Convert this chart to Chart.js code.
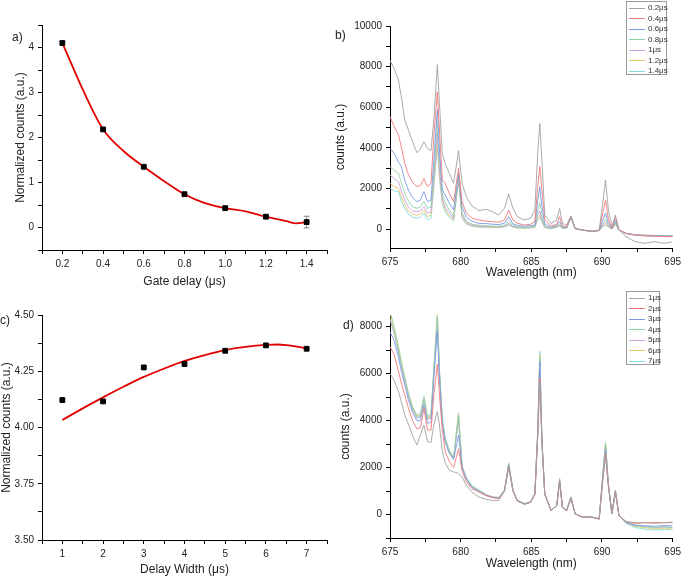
<!DOCTYPE html>
<html>
<head>
<meta charset="utf-8">
<script src="https://cdn.jsdelivr.net/npm/chart.js@4.4.1/dist/chart.umd.min.js"></script>
<style>
  body { margin: 0; background: #fff; width: 685px; height: 579px; overflow: hidden; position: relative; font-family: 'Liberation Sans', Arial, sans-serif; }
  .panel { position: absolute; }
  .tag { position: absolute; font-size: 12px; line-height: 12px; color: #222; }
  .legend { position: absolute; box-sizing: border-box; border: 1px solid #999; background: #fff; font-size: 8px; color: #333; padding: 1px 0 0 2px; }
  .legend .row { height: 10.5px; line-height: 10.5px; display: flex; align-items: center; white-space: nowrap; }
  .legend .swatch { display: inline-block; flex: none; width: 16px; height: 1px; margin-right: 3px; }
</style>
</head>
<body>
<canvas id="chartA" class="panel" width="340" height="290" style="left:0;top:0"></canvas>
<canvas id="chartB" class="panel" width="355" height="290" style="left:330px;top:0"></canvas>
<canvas id="chartC" class="panel" width="340" height="289" style="left:0;top:290px"></canvas>
<canvas id="chartD" class="panel" width="355" height="289" style="left:330px;top:290px"></canvas>
<span class="tag" style="left:12px;top:31px">a)</span>
<span class="tag" style="left:335px;top:29px">b)</span>
<span class="tag" style="left:0;top:314px">c)</span>
<span class="tag" style="left:343px;top:319px">d)</span>
<div id="legendB" class="legend" style="left:626px;top:1px;width:41px;height:74px"></div>
<div id="legendD" class="legend" style="left:626px;top:291px;width:34px;height:74px"></div>
<script>
// ---- data ----
// a) gate delay
const gateDelay = [0.2, 0.4, 0.6, 0.8, 1.0, 1.2, 1.4];
const gateCounts = [4.1, 2.18, 1.35, 0.74, 0.43, 0.24, 0.12];
const gateErr = [0, 0, 0, 0, 0, 0, 0.13];
const gateFitX = [0.2, 0.25, 0.3, 0.35, 0.4, 0.5, 0.6, 0.7, 0.8, 0.9, 1.0, 1.1, 1.2, 1.25, 1.3, 1.35, 1.4];
const gateFitY = [4.1, 3.58, 3.07, 2.59, 2.18, 1.7, 1.35, 1.03, 0.74, 0.54, 0.43, 0.36, 0.24, 0.19, 0.14, 0.09, 0.12];
const gateXTicks = [0.1, 0.2, 0.3, 0.4, 0.5, 0.6, 0.7, 0.8, 0.9, 1.0, 1.1, 1.2, 1.3, 1.4, 1.5];
const gateXLabels = [0.2, 0.4, 0.6, 0.8, 1.0, 1.2, 1.4];
const gateYTicks = [-0.5, 0, 0.5, 1, 1.5, 2, 2.5, 3, 3.5, 4, 4.5];
const gateYLabels = [0, 1, 2, 3, 4];

// c) delay width
const width = [1, 2, 3, 4, 5, 6, 7];
const widthCounts = [4.122, 4.116, 4.267, 4.282, 4.341, 4.365, 4.35];
const widthFitX = [1, 1.5, 2, 2.5, 3, 3.5, 4, 4.5, 5, 5.5, 6, 6.3, 6.5, 7];
const widthFitY = [4.033, 4.085, 4.134, 4.181, 4.225, 4.262, 4.296, 4.322, 4.344, 4.358, 4.367, 4.369, 4.366, 4.352];
const widthXTicks = [0.5, 1, 1.5, 2, 2.5, 3, 3.5, 4, 4.5, 5, 5.5, 6, 6.5, 7, 7.5];
const widthXLabels = [1, 2, 3, 4, 5, 6, 7];
const widthYTicks = [3.5, 3.625, 3.75, 3.875, 4, 4.125, 4.25, 4.375, 4.5];
const widthYLabels = [3.5, 3.75, 4, 4.25, 4.5];

// b) and d) spectra, shared wavelength grid (nm)
const wl = [675, 675.3, 675.6, 675.8, 676.05, 676.3, 676.6, 676.9, 677.15, 677.4,
  677.65, 677.9, 678.1, 678.35, 678.5, 678.7, 678.9, 679.2, 679.5, 679.85,
  680.1, 680.4, 680.8, 681.3, 681.8, 682.25, 682.7, 683.1, 683.4, 683.7,
  684.0, 684.5, 684.95, 685.25, 685.45, 685.6, 685.75, 685.95, 686.4, 686.8,
  687.0, 687.2, 687.5, 687.8, 688.1, 688.6, 689.3, 689.8, 690.05, 690.25,
  690.45, 690.7, 690.95, 691.2, 691.7, 692.3, 693, 693.7, 694.4, 695];
const wlTicks = [675, 677.5, 680, 682.5, 685, 687.5, 690, 692.5, 695];
const wlLabels = [675, 680, 685, 690, 695];

const gateLegend = ['0.2μs', '0.4μs', '0.6μs', '0.8μs', '1μs', '1.2μs', '1.4μs'];
const spec02 = [8300, 7900, 7340, 6520, 5370, 4880, 4300, 3770, 3950, 4300,
  3980, 3870, 5370, 8100, 6190, 3730, 3240, 2750, 2260, 3870,
  2260, 1600, 1150, 920, 980, 865, 700, 1030, 1740, 1030,
  620, 455, 540, 950, 3730, 5200, 3400, 700, 290, 455,
  1030, 290, 210, 650, 50, -30, -115, -30, 1280, 2420,
  950, 130, 700, -30, -360, -600, -690, -610, -690, -610];
const spec04 = [5540, 5040, 4640, 4060, 3240, 2700, 2300, 2100, 2150, 2500,
  2100, 2260, 4550, 6760, 4880, 2420, 2260, 1770, 1360, 3000,
  1360, 800, 550, 455, 400, 375, 350, 455, 950, 455,
  300, 210, 250, 375, 2100, 3080, 1930, 455, 160, 250,
  620, 160, 130, 620, 50, -30, -100, -50, 785, 1440,
  500, 50, 620, -30, -200, -280, -320, -340, -360, -360];
const spec06 = [3980, 3730, 3300, 3080, 2400, 1930, 1550, 1360, 1440, 1850,
  1360, 1440, 3400, 5900, 3900, 1930, 1690, 1280, 950, 2750,
  1110, 600, 400, 290, 280, 250, 230, 300, 620, 260,
  200, 150, 180, 210, 1400, 2100, 1110, 260, 100, 200,
  375, 120, 100, 620, 40, -40, -100, -60, 450, 800,
  300, 30, 455, -40, -200, -280, -320, -330, -340, -350];
const spec08 = [3080, 2900, 2750, 2300, 1770, 1400, 1100, 1030, 1100, 1360,
  1030, 1100, 2750, 5290, 3500, 1770, 1300, 950, 620, 2590,
  800, 400, 250, 200, 180, 160, 150, 200, 400, 180,
  130, 100, 120, 150, 900, 1300, 700, 150, 60, 150,
  250, 80, 80, 620, 30, -40, -100, -60, 300, 500,
  200, 20, 350, -40, -200, -280, -300, -320, -330, -340];
const spec10 = [2670, 2500, 2340, 1900, 1440, 1100, 900, 870, 900, 1110,
  790, 850, 2420, 4720, 3000, 1520, 1100, 790, 540, 2500,
  700, 330, 200, 160, 140, 130, 120, 160, 300, 140,
  100, 80, 100, 120, 700, 900, 500, 120, 50, 120,
  200, 70, 70, 620, 30, -40, -100, -60, 220, 350,
  150, 20, 300, -40, -200, -270, -300, -310, -320, -330];
const spec12 = [2260, 2100, 2010, 1600, 1200, 900, 750, 700, 750, 950,
  620, 700, 2260, 4310, 2700, 1360, 950, 655, 460, 2420,
  600, 280, 170, 130, 110, 100, 100, 130, 250, 120,
  80, 60, 80, 100, 550, 700, 400, 100, 40, 100,
  170, 60, 60, 600, 20, -40, -100, -60, 170, 250,
  120, 10, 250, -40, -200, -260, -290, -300, -310, -320];
const spec14 = [2010, 1900, 1850, 1400, 1030, 750, 600, 540, 600, 790,
  460, 550, 2100, 4060, 2500, 1280, 850, 590, 410, 2340,
  550, 250, 150, 100, 90, 80, 80, 110, 200, 100,
  60, 50, 70, 90, 450, 600, 330, 90, 30, 90,
  150, 50, 50, 600, 20, -40, -100, -60, 130, 200,
  100, 10, 220, -40, -200, -260, -290, -300, -310, -310];

const widthLegend = ['1μs', '2μs', '3μs', '4μs', '5μs', '6μs', '7μs'];
const spec1us = [6010, 5700, 5250, 4800, 4230, 3850, 3350, 2960, 3380, 3810,
  3100, 3070, 3810, 4380, 3810, 2700, 2200, 1890, 1820, 1750,
  1600, 1250, 950, 740, 650, 600, 600, 1000, 2000, 1000,
  580, 430, 520, 850, 3300, 5600, 3000, 850, 170, 380,
  1350, 300, 170, 650, 30, -110, -110, -185, 1400, 2500,
  1200, 30, 950, -40, -300, -350, -350, -380, -350, -350];
const spec2us = [7150, 6800, 6100, 5600, 5090, 4550, 4000, 3650, 3700, 4520,
  3600, 3600, 5090, 6400, 5090, 3600, 2700, 2250, 2000, 2800,
  1850, 1400, 1100, 950, 800, 720, 680, 1000, 2050, 1000,
  580, 440, 520, 870, 3350, 5800, 3100, 870, 170, 380,
  1400, 300, 170, 700, 30, -110, -120, -190, 1450, 2600,
  1250, 30, 980, -40, -300, -380, -350, -330, -350, -320];
const spec3us = [7790, 7400, 6700, 6100, 5510, 4900, 4350, 4000, 4000, 4660,
  3880, 3950, 5800, 7800, 5800, 3900, 3100, 2600, 2350, 3380,
  2000, 1500, 1150, 1000, 820, 730, 700, 1020, 2100, 1020,
  600, 450, 530, 880, 3450, 6500, 3150, 880, 170, 380,
  1450, 300, 170, 720, 30, -110, -110, -185, 1550, 2750,
  1300, 30, 1000, -40, -330, -450, -480, -500, -470, -480];
const spec4us = [8360, 7800, 7000, 6400, 5730, 5100, 4500, 4160, 4200, 4950,
  4090, 4160, 6080, 8430, 6080, 4000, 3200, 2670, 2400, 4230,
  2030, 1550, 1200, 1020, 830, 740, 710, 1030, 2150, 1030,
  600, 455, 530, 880, 3450, 6700, 3160, 880, 170, 385,
  1500, 310, 170, 740, 30, -110, -110, -185, 1600, 3000,
  1310, 30, 1020, -40, -330, -470, -520, -560, -540, -560];
const spec5us = [8300, 7700, 6900, 6300, 5650, 5050, 4450, 4100, 4150, 4850,
  4050, 4100, 6000, 8200, 6000, 3950, 3150, 2650, 2380, 4000,
  2020, 1540, 1190, 1010, 820, 730, 700, 1020, 2100, 1020,
  600, 450, 520, 870, 3400, 6600, 3100, 870, 160, 380,
  1450, 300, 160, 720, 30, -120, -120, -200, 1580, 2900,
  1300, 30, 1000, -40, -330, -460, -500, -540, -520, -540];
const spec6us = [8600, 7900, 7100, 6500, 5800, 5150, 4550, 4200, 4250, 5000,
  4150, 4200, 6150, 8500, 6150, 4050, 3250, 2700, 2420, 4300,
  2050, 1560, 1210, 1030, 840, 750, 720, 1040, 2180, 1040,
  610, 460, 540, 890, 3500, 6800, 3200, 890, 170, 390,
  1520, 310, 170, 740, 30, -110, -110, -190, 1620, 3050,
  1320, 30, 1030, -40, -350, -500, -560, -600, -580, -620];
const spec7us = [8700, 8000, 7150, 6550, 5850, 5200, 4600, 4250, 4300, 5050,
  4200, 4250, 6200, 8550, 6200, 4100, 3300, 2750, 2450, 4350,
  2080, 1580, 1220, 1040, 850, 760, 730, 1050, 2200, 1050,
  620, 470, 550, 900, 3550, 6950, 3250, 900, 180, 395,
  1550, 320, 180, 760, 30, -110, -110, -190, 1650, 3100,
  1330, 30, 1050, -40, -380, -550, -620, -660, -640, -650];
const countTicks = [-1000, 0, 1000, 2000, 3000, 4000, 5000, 6000, 7000, 8000, 9000, 10000];
const countLabels = [0, 2000, 4000, 6000, 8000, 10000];

const specColors = ['#a2a2a2', '#f07a7a', '#7a9ae6', '#8fd2a6', '#caa0e2', '#e8c66e', '#80dde2'];

// ---- chart setup ----
Chart.defaults.font.family = "'Liberation Sans', Arial, sans-serif";
Chart.defaults.font.size = 10;
Chart.defaults.color = '#222';

function makeAxis({ min, max, ticks, labels, fmt, title, size, titlePad, lineHeight }) {
    return {
        type: 'linear',
        min, max,
        afterBuildTicks: s => { s.ticks = ticks.filter(v => v >= min && v <= max).map(v => ({ value: v })); },
        afterFit: s => {
            if (s.isHorizontal()) s.height = size; else s.width = size;
        },
        border: { display: true, color: '#000', width: 1 },
        grid: { drawOnChartArea: false, drawTicks: true, tickLength: 4, color: '#000', lineWidth: 1 },
        ticks: {
            autoSkip: false, maxRotation: 0, padding: 4, color: '#222',
            callback: v => labels.includes(v) ? fmt(v) : ''
        },
        title: {
            display: true, text: title, color: '#222',
            font: { size: 12, lineHeight: lineHeight || 1.2 },
            padding: titlePad
        }
    };
}

const errorBars = {
    id: 'errorBars',
    beforeDatasetsDraw(chart) {
        const { ctx, scales: { x, y } } = chart;
        ctx.save();
        ctx.strokeStyle = '#888';
        ctx.lineWidth = 1;
        gateDelay.forEach((d, i) => {
            if (!gateErr[i]) return;
            const px = x.getPixelForValue(d);
            const top = y.getPixelForValue(gateCounts[i] + gateErr[i]);
            const bot = y.getPixelForValue(gateCounts[i] - gateErr[i]);
            ctx.beginPath();
            ctx.moveTo(px, top); ctx.lineTo(px, bot);
            ctx.moveTo(px - 3, top); ctx.lineTo(px + 3, top);
            ctx.moveTo(px - 3, bot); ctx.lineTo(px + 3, bot);
            ctx.stroke();
        });
        ctx.restore();
    }
};

const basePlugins = { legend: { display: false }, tooltip: { enabled: false } };

// 1. Gate delay decay (a)
function renderGateChart() {
    new Chart(document.getElementById('chartA'), {
        type: 'line',
        data: {
            datasets: [{
                data: gateDelay.map((x, i) => ({ x, y: gateCounts[i] })),
                showLine: false, pointStyle: 'rect', pointRadius: 3.4,
                backgroundColor: '#000', borderColor: '#000', borderWidth: 1
            }, {
                data: gateFitX.map((x, i) => ({ x, y: gateFitY[i] })),
                borderColor: '#e00000', borderWidth: 1.8, pointRadius: 0,
                cubicInterpolationMode: 'monotone'
            }]
        },
        options: {
            responsive: false, animation: false, devicePixelRatio: 1,
            layout: { padding: { left: 0, right: 13, top: 25, bottom: 0 } },
            plugins: basePlugins,
            scales: {
                x: makeAxis({ min: 0.1, max: 1.5, ticks: gateXTicks, labels: gateXLabels, fmt: v => v.toFixed(1),
                    title: 'Gate delay (μs)', size: 40, titlePad: { top: 0, bottom: 1 } }),
                y: makeAxis({ min: -0.5, max: 4.5, ticks: gateYTicks, labels: gateYLabels, fmt: v => String(v),
                    title: 'Normalized counts (a.u.)', size: 42, titlePad: { top: 13, bottom: 0 } })
            }
        },
        plugins: [errorBars]
    });
}

// 2. Delay width (c)
function renderWidthChart() {
    new Chart(document.getElementById('chartC'), {
        type: 'line',
        data: {
            datasets: [{
                data: width.map((x, i) => ({ x, y: widthCounts[i] })),
                showLine: false, pointStyle: 'rect', pointRadius: 3.4,
                backgroundColor: '#000', borderColor: '#000', borderWidth: 1
            }, {
                data: widthFitX.map((x, i) => ({ x, y: widthFitY[i] })),
                borderColor: '#e00000', borderWidth: 1.8, pointRadius: 0,
                cubicInterpolationMode: 'monotone'
            }]
        },
        options: {
            responsive: false, animation: false, devicePixelRatio: 1,
            layout: { padding: { left: 0, right: 13, top: 25, bottom: 0 } },
            plugins: basePlugins,
            scales: {
                x: makeAxis({ min: 0.5, max: 7.5, ticks: widthXTicks, labels: widthXLabels, fmt: v => String(v),
                    title: 'Delay Width (μs)', size: 39, titlePad: { top: 0, bottom: 2 } }),
                y: makeAxis({ min: 3.5, max: 4.5, ticks: widthYTicks, labels: widthYLabels, fmt: v => v.toFixed(2),
                    title: 'Normalized counts (a.u.)', size: 42, titlePad: { top: 0, bottom: 0 }, lineHeight: 1.1 })
            }
        }
    });
}

// 3. spectra (b, d)
function renderSpectra(id, legendId, series, names, yMin, yMax, pad, xSize, xPad, yPad) {
    new Chart(document.getElementById(id), {
        type: 'line',
        data: {
            datasets: series.map((s, k) => ({
                label: names[k],
                data: wl.map((x, i) => ({ x, y: s[i] })),
                borderColor: specColors[k], borderWidth: 0.9, pointRadius: 0, tension: 0
            }))
        },
        options: {
            responsive: false, animation: false, devicePixelRatio: 1,
            layout: { padding: pad },
            plugins: basePlugins,
            scales: {
                x: makeAxis({ min: 675, max: 695, ticks: wlTicks, labels: wlLabels, fmt: v => String(v),
                    title: 'Wavelength (nm)', size: xSize, titlePad: { top: 0, bottom: xPad } }),
                y: makeAxis({ min: yMin, max: yMax, ticks: countTicks, labels: countLabels, fmt: v => String(v),
                    title: 'counts (a.u.)', size: 60, titlePad: { top: yPad, bottom: 0 } })
            }
        }
    });

    const el = document.getElementById(legendId);
    el.innerHTML = names.map((n, k) =>
        `<div class="row"><span class="swatch" style="background:${specColors[k]}"></span>${n}</div>`
    ).join('');
}

renderGateChart();
renderWidthChart();
renderSpectra('chartB', 'legendB', [spec02, spec04, spec06, spec08, spec10, spec12, spec14], gateLegend,
    -920, 10000, { left: 0, right: 10, top: 26, bottom: 0 }, 42, 10, 3);
renderSpectra('chartD', 'legendD', [spec1us, spec2us, spec3us, spec4us, spec5us, spec6us, spec7us], widthLegend,
    -1000, 8500, { left: 0, right: 10, top: 25, bottom: 0 }, 41, 8, 8);
</script>
</body>
</html>
